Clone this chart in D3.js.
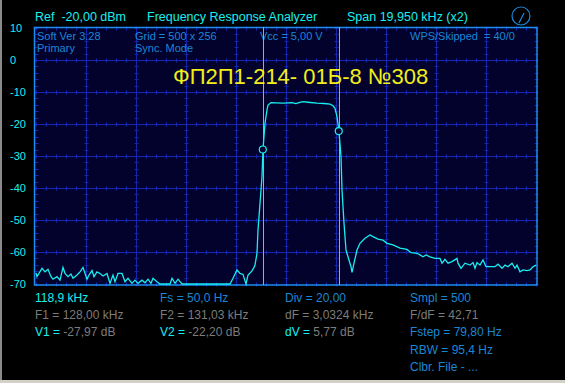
<!DOCTYPE html>
<html>
<head>
<meta charset="utf-8">
<script src="https://cdn.jsdelivr.net/npm/d3@7"></script>
<style>
  html, body { margin: 0; padding: 0; background: #000; }
  svg { display: block; }
  text { font-family: "Liberation Sans", "DejaVu Sans", sans-serif; }
</style>
</head>
<body>
<div id="chart"></div>
<script>
/*****************/
/*     DATA      */
/*****************/
// sweep: start frequency and span in kHz, 500 samples across the grid
var startFreq = 118.95;
var spanFreq = 19.95;
var sampleCount = 500;

// trace: sample number and level in dB
var sampleIdx = [
  0, 1, 6, 9, 12, 15, 17, 21, 24, 27, 29, 32, 35, 37, 41, 44, 47, 51, 53, 56,
  58, 61, 64, 67, 71, 74, 77, 79, 82, 86, 89, 92, 96, 99, 102, 106, 109, 112, 115, 117,
  121, 124, 134, 136, 139, 142, 146, 194, 197, 201, 204, 207, 210, 212, 216, 218, 219, 221, 222, 224,
  226, 227, 229, 231, 232, 235, 240, 247, 252, 256, 260, 263, 267, 272, 281, 288, 294, 297, 299, 301,
  303, 305, 306, 308, 310, 312, 315, 316, 318, 321, 324, 329, 334, 337, 342, 347, 351, 357, 364, 371,
  375, 381, 384, 387, 390, 394, 399, 404, 406, 409, 412, 416, 421, 422, 425, 429, 434, 437, 439, 441,
  444, 447, 450, 454, 459, 462, 466, 469, 472, 476, 479, 481, 484, 487, 491, 494, 497, 500
];
var levelDb = [
  -66.5, -67.7, -65.1, -66.2, -65.4, -67.7, -68.5, -67.7, -68.8, -64.8, -66.7, -67.7, -66.9, -68.2, -67.2, -66.2, -64.8, -68.5, -67.2, -65.8,
  -67.7, -66.2, -66.7, -67.5, -66.7, -69.8, -67.2, -69.3, -66.7, -66.7, -69.3, -68.2, -69.8, -68.8, -69.8, -68.8, -69.6, -68.5, -69.8, -68.2,
  -69.3, -70.0, -70.0, -68.2, -69.8, -68.5, -70.0, -70.0, -68.2, -65.6, -66.7, -67.0, -70.0, -67.2, -65.9, -64.8, -64.1, -60.4, -53.1, -44.8,
  -36.5, -27.9, -19.8, -15.6, -14.1, -13.3, -13.4, -13.5, -13.4, -13.3, -13.6, -13.3, -13.0, -13.2, -13.5, -13.6, -13.8, -14.3, -15.1, -17.7,
  -22.4, -30.2, -40.6, -51.0, -59.4, -61.5, -64.6, -66.4, -63.5, -59.4, -57.3, -55.7, -54.7, -55.2, -56.0, -56.3, -57.3, -57.8, -58.8, -59.2,
  -60.2, -60.4, -60.9, -61.5, -60.9, -61.5, -62.0, -62.0, -63.5, -62.3, -63.5, -63.0, -62.0, -63.5, -65.1, -63.5, -64.1, -63.3, -65.1, -63.3,
  -64.1, -62.5, -64.6, -64.6, -64.6, -63.8, -65.1, -64.1, -64.6, -63.5, -65.1, -64.1, -66.2, -65.6, -65.8, -65.6, -64.6, -64.1
];

// cursors
var cursorFreqs = [128.00, 131.03];
var cursorLevels = [-27.97, -22.20];

// level axis
var levelTicks = [10, 0, -10, -20, -30, -40, -50, -60, -70];

// texts
var headerTexts = ["Ref  -20,00 dBm", "Frequency Response Analyzer", "Span 19,950 kHz (x2)"];
var infoTop = ["Soft Ver 3.28", "Grid = 500 x 256", "Vcc = 5,00 V", "WPS/Skipped  = 40/0"];
var infoSecond = ["Primary", "Sync. Mode"];
var titleText = "ФП2П1-214- 01Б-8 №308";
var statusLine = ["118,9 kHz", "Fs = 50,0 Hz", "Div = 20,00", "Smpl = 500"];
var cursorFreqLine = ["F1 = 128,00 kHz", "F2 = 131,03 kHz", "dF = 3,0324 kHz", "F/dF = 42,71"];
var cursorLevelLine = [["V1 = ", "-27,97 dB"], ["V2 = ", "-22,20 dB"], ["dV = ", "5,77 dB"]];
var extraLines = ["Fstep = 79,80 Hz", "RBW = 95,4 Hz", "Clbr. File - ..."];

/*****************/
/*    DRAWING    */
/*****************/
var width = 565, height = 383;
var plot = {left: 36, right: 536, top: 28, bottom: 284};

var cCyan = "#18eef0", cBlue = "#1a86d6", cGrey = "#7c7c7c",
    cGrid = "#1426b0", cBorder = "#1e8cf0", cBack = "#02022c";

var svg = d3.select("#chart").append("svg")
    .attr("width", width)
    .attr("height", height);

svg.append("rect")
    .attr("width", width).attr("height", height)
    .attr("fill", "#000");

// window frame bits
svg.append("rect").attr("x", 0).attr("y", 0).attr("width", 2).attr("height", height).attr("fill", "#8a8a8a");
svg.append("rect").attr("x", 0).attr("y", 380).attr("width", width).attr("height", 3).attr("fill", "#d4d0c8");

var x = d3.scaleLinear()
    .domain([startFreq, startFreq + spanFreq])
    .range([plot.left, plot.right]);

var y = d3.scaleLinear()
    .domain([10, -70])
    .range([plot.top, plot.bottom]);

// plot background
svg.append("rect")
    .attr("x", plot.left - 1.5).attr("y", plot.top - 0.5)
    .attr("width", plot.right - plot.left + 2.5).attr("height", plot.bottom - plot.top + 1.5)
    .attr("fill", cBack);

var grid = svg.append("g");

var xMajor = d3.range(0, 11).map(function(k) { return startFreq + spanFreq * k / 10; });
var xMinor = d3.range(0, 51).map(function(k) { return startFreq + spanFreq * k / 50; });
var yMinor = d3.range(10, -70.1, -2);

grid.selectAll(".vline")
    .data(xMajor.slice(1, 10))
  .enter().append("line")
    .attr("x1", function(d) { return Math.round(x(d)) + 0.5; })
    .attr("x2", function(d) { return Math.round(x(d)) + 0.5; })
    .attr("y1", plot.top).attr("y2", plot.bottom)
    .attr("stroke", cGrid);

grid.selectAll(".hline")
    .data(levelTicks.slice(1, 8))
  .enter().append("line")
    .attr("x1", plot.left).attr("x2", plot.right)
    .attr("y1", function(d) { return Math.round(y(d)) + 0.5; })
    .attr("y2", function(d) { return Math.round(y(d)) + 0.5; })
    .attr("stroke", cGrid);

// minor ticks on every vertical grid line
xMajor.forEach(function(f) {
  var cx = Math.round(x(f)) + 0.5;
  grid.selectAll(null)
      .data(yMinor)
    .enter().append("line")
      .attr("x1", cx - 2).attr("x2", cx + 2)
      .attr("y1", function(d) { return Math.round(y(d)) + 0.5; })
      .attr("y2", function(d) { return Math.round(y(d)) + 0.5; })
      .attr("stroke", cGrid);
});

// minor ticks on every horizontal grid line
levelTicks.forEach(function(l) {
  var cy = Math.round(y(l)) + 0.5;
  grid.selectAll(null)
      .data(xMinor)
    .enter().append("line")
      .attr("x1", function(d) { return Math.round(x(d)) + 0.5; })
      .attr("x2", function(d) { return Math.round(x(d)) + 0.5; })
      .attr("y1", cy - 2).attr("y2", cy + 2)
      .attr("stroke", cGrid);
});

// border
svg.append("rect")
    .attr("x", plot.left - 1.5).attr("y", plot.top - 0.5)
    .attr("width", plot.right - plot.left + 2.5).attr("height", plot.bottom - plot.top + 1.5)
    .attr("fill", "none")
    .attr("stroke", cBorder)
    .attr("stroke-width", 1.5);

// info texts inside the plot
var infoX = [37, 135, 260, 410];
svg.selectAll(".infoTop")
    .data(infoTop)
  .enter().append("text")
    .attr("x", function(d, i) { return infoX[i]; })
    .attr("y", 40)
    .attr("fill", cBlue)
    .attr("font-size", "11px")
    .attr("xml:space", "preserve")
    .style("white-space", "pre")
    .text(function(d) { return d; });

svg.selectAll(".infoSecond")
    .data(infoSecond)
  .enter().append("text")
    .attr("x", function(d, i) { return infoX[i]; })
    .attr("y", 52)
    .attr("fill", cBlue)
    .attr("font-size", "11px")
    .text(function(d) { return d; });

// cursor lines
svg.selectAll(".cursor")
    .data(cursorFreqs)
  .enter().append("line")
    .attr("x1", function(d) { return Math.round(x(d)) + 0.5; })
    .attr("x2", function(d) { return Math.round(x(d)) + 0.5; })
    .attr("y1", plot.top - 1).attr("y2", plot.bottom + 1)
    .attr("stroke", "#a8a8a8");

// title
svg.append("text")
    .attr("x", 173)
    .attr("y", 84)
    .attr("fill", "#f2ee1a")
    .attr("font-size", "22px")
    .text(titleText);

// trace
var trace = sampleIdx.map(function(s, i) {
  return [startFreq + spanFreq * s / sampleCount, levelDb[i]];
});

var line = d3.line()
    .x(function(d) { return x(d[0]); })
    .y(function(d) { return y(d[1]); });

svg.append("path")
    .datum(trace)
    .attr("d", line)
    .attr("fill", "none")
    .attr("stroke", cCyan)
    .attr("stroke-width", 1.3);

// cursor markers
svg.selectAll(".marker")
    .data(cursorFreqs)
  .enter().append("circle")
    .attr("cx", function(d) { return x(d); })
    .attr("cy", function(d, i) { return y(cursorLevels[i]); })
    .attr("r", 3.5)
    .attr("fill", cBack)
    .attr("stroke", cCyan)
    .attr("stroke-width", 1.2);

// level labels
svg.selectAll(".ylabel")
    .data(levelTicks)
  .enter().append("text")
    .attr("x", 10)
    .attr("y", function(d) { return y(d) + 4; })
    .attr("fill", cCyan)
    .attr("font-size", "11px")
    .text(function(d) { return d; });

// header
var headerX = [35, 147, 347];
svg.selectAll(".header")
    .data(headerTexts)
  .enter().append("text")
    .attr("x", function(d, i) { return headerX[i]; })
    .attr("y", 21)
    .attr("fill", cCyan)
    .attr("font-size", "12.5px")
    .attr("xml:space", "preserve")
    .style("white-space", "pre")
    .text(function(d) { return d; });

// knob icon
svg.append("circle")
    .attr("cx", 521).attr("cy", 16).attr("r", 9)
    .attr("fill", "none").attr("stroke", cBlue).attr("stroke-width", 1.2);
svg.append("line")
    .attr("x1", 519).attr("y1", 23).attr("x2", 524).attr("y2", 13)
    .attr("stroke", cBlue).attr("stroke-width", 1.2);

// readouts
var colX = [35, 160, 285, 410];
var rowY = [302, 319, 336, 354, 371];

function readout(txt, cx, cy, color) {
  return svg.append("text")
      .attr("x", cx).attr("y", cy)
      .attr("fill", color)
      .attr("font-size", "12px")
      .text(txt);
}

statusLine.forEach(function(t, i) { readout(t, colX[i], rowY[0], i === 0 ? cCyan : cBlue); });
cursorFreqLine.forEach(function(t, i) { readout(t, colX[i], rowY[1], cGrey); });
cursorLevelLine.forEach(function(t, i) {
  var tx = readout("", colX[i], rowY[2], cCyan);
  tx.append("tspan").attr("fill", cCyan).text(t[0]);
  tx.append("tspan").attr("fill", cGrey).text(t[1]);
});
extraLines.forEach(function(t, i) { readout(t, colX[3], rowY[2 + i], cBlue); });
</script>
</body>
</html>
